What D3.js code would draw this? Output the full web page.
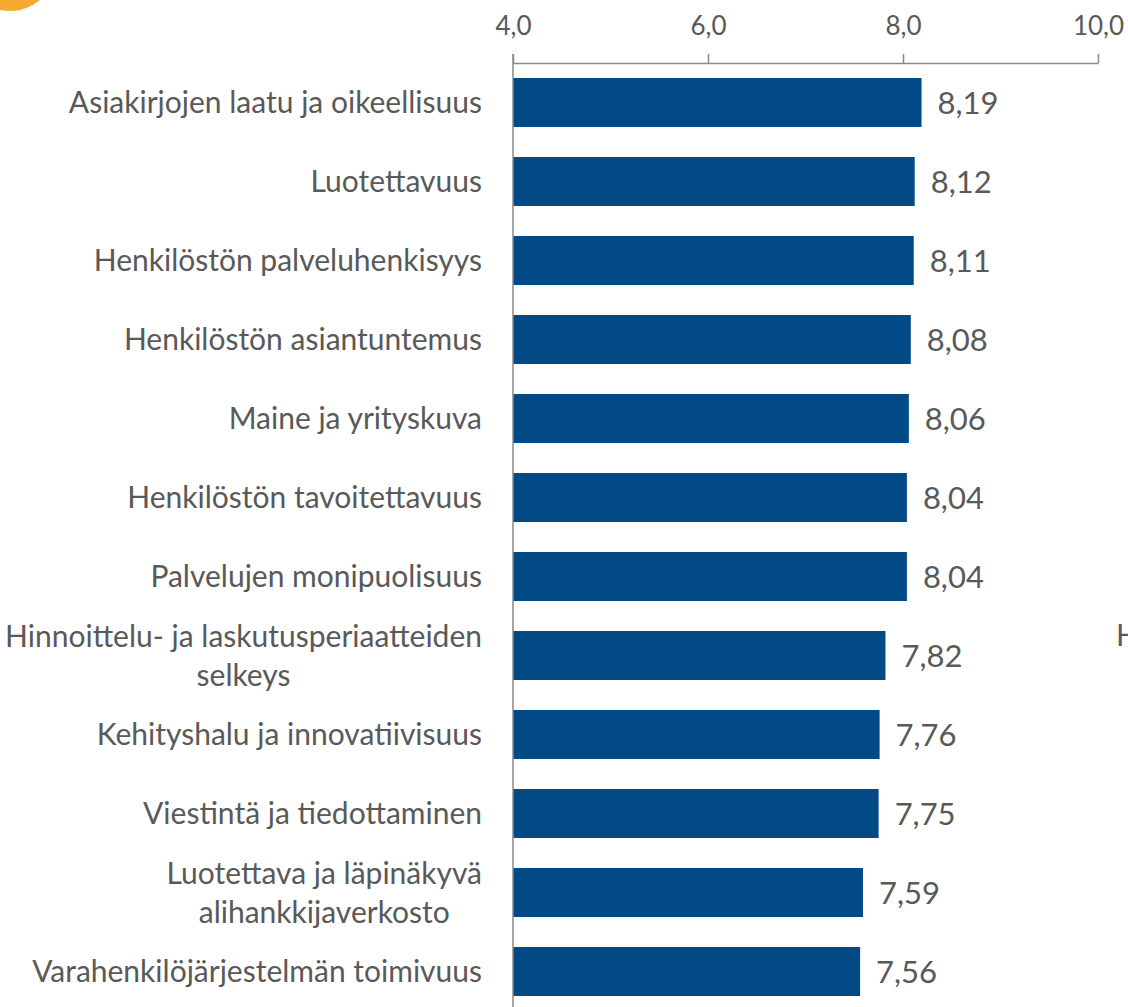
<!DOCTYPE html>
<html>
<head>
<meta charset="utf-8">
<script src="https://cdn.jsdelivr.net/npm/d3@7"></script>
<style>
  html, body { margin: 0; padding: 0; background: #fff; overflow: hidden; }
  text { font-family: Lato, "Open Sans", sans-serif; fill: #595959; }
</style>
</head>
<body>
<svg id="chart" width="1128" height="1007"></svg>
<script>
// category labels (multi-line ones split with \n)
var categories = [
    'Asiakirjojen laatu ja oikeellisuus',
    'Luotettavuus',
    'Henkilöstön palveluhenkisyys',
    'Henkilöstön asiantuntemus',
    'Maine ja yrityskuva',
    'Henkilöstön tavoitettavuus',
    'Palvelujen monipuolisuus',
    'Hinnoittelu- ja laskutusperiaatteiden\nselkeys',
    'Kehityshalu ja innovatiivisuus',
    'Viestintä ja tiedottaminen',
    'Luotettava ja läpinäkyvä\nalihankkijaverkosto',
    'Varahenkilöjärjestelmän toimivuus'
];
var values = [8.19, 8.12, 8.11, 8.08, 8.06, 8.04, 8.04, 7.82, 7.76, 7.75, 7.59, 7.56];
var ticks = [4, 6, 8, 10];

var fmt = (d, n) => d.toFixed(n).replace('.', ',');

var svg = d3.select('#chart');
var plotLeft = 513, plotRight = 1098, plotTop = 63, step = 79;

var x = d3.scaleLinear().domain([4, 10]).range([plotLeft, plotRight]);
var y = d3.scaleBand()
    .domain(d3.range(categories.length))
    .range([plotTop, plotTop + step * categories.length])
    .paddingInner(0.38)
    .paddingOuter(0.19);

// orange badge peeking in at the top-left corner
svg.append('circle')
    .attr('cx', 10).attr('cy', -35).attr('r', 46)
    .attr('fill', '#F6A92F');

// bars
svg.append('g')
    .selectAll('rect')
    .data(values)
    .join('rect')
    .attr('x', x(4))
    .attr('y', (d, i) => y(i))
    .attr('width', d => x(d) - x(4))
    .attr('height', y.bandwidth())
    .attr('fill', '#024A86');

// top axis
var axis = d3.axisTop(x)
    .tickValues(ticks)
    .tickSize(9)
    .tickSizeOuter(0)
    .tickPadding(19)
    .tickFormat(d => fmt(d, 1));

var gx = svg.append('g')
    .attr('transform', `translate(0,${plotTop})`)
    .call(axis);
gx.select('.domain').attr('stroke', '#898989').attr('stroke-width', 1.5);
gx.selectAll('.tick line').attr('stroke', '#898989').attr('stroke-width', 1.5);
gx.selectAll('.tick text')
    .attr('font-size', 26)
    .attr('fill', '#595959')
    .style('font-family', 'Lato, sans-serif');

// vertical base line
svg.append('line')
    .attr('x1', x(4)).attr('x2', x(4))
    .attr('y1', plotTop - 9).attr('y2', 1007)
    .attr('stroke', '#898989')
    .attr('stroke-width', 1.5);

// value labels
svg.append('g')
    .selectAll('text')
    .data(values)
    .join('text')
    .attr('x', d => x(d) + 16)
    .attr('y', (d, i) => y(i) + y.bandwidth() / 2)
    .attr('dy', '0.38em')
    .attr('font-size', 31)
    .text(d => fmt(d, 2));

// category labels
var lineH = 39;
var labels = svg.append('g')
    .selectAll('text')
    .data(categories)
    .join('text')
    .attr('font-size', 30)
    .attr('text-anchor', 'middle')
    .attr('transform', (d, i) => `translate(0,${y(i) + y.bandwidth() / 2})`);

labels.each(function(d) {
    var lines = d.split('\n');
    var t = d3.select(this);
    lines.forEach((ln, k) => {
        t.append('tspan')
            .attr('y', (k - (lines.length - 1) / 2) * lineH)
            .attr('dy', '0.36em')
            .text(ln);
    });
    // right-align the block at x=482, lines centred among themselves
    var w = d3.max(t.selectAll('tspan').nodes(), n => n.getComputedTextLength());
    t.selectAll('tspan').attr('x', 482 - w / 2);
});

// cut-off label from the neighbouring chart
svg.append('text')
    .attr('x', 1116).attr('y', 646)
    .attr('font-size', 30)
    .text('H');
</script>
</body>
</html>
